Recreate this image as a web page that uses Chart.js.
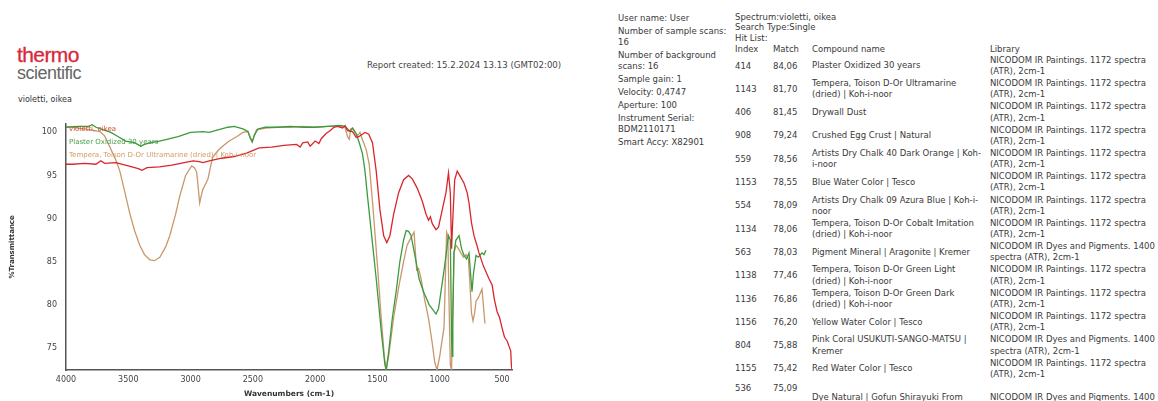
<!DOCTYPE html>
<html>
<head>
<meta charset="utf-8">
<script src="https://cdn.jsdelivr.net/npm/chart.js@4"></script>
<style>
  html, body { margin: 0; padding: 0; background: #fff; }
  body { width: 1158px; height: 401px; position: relative; overflow: hidden;
         font-family: "DejaVu Sans", Verdana, sans-serif; color: #3a3a3a; }
  .abs { position: absolute; white-space: nowrap; }
  .txt { font-size: 8.5px; line-height: 11px; }
  #logo1 { left: 17px; top: 43px; font: 21px "Liberation Sans", Arial, sans-serif; color: #d8283a; letter-spacing: -0.6px; -webkit-text-stroke: 0.3px #d8283a; }
  #logo2 { left: 17px; top: 63px; font: 18px "Liberation Sans", Arial, sans-serif; color: #666; letter-spacing: -0.5px; }
  #sample { left: 18px; top: 95px; font-size: 8px; color: #333; }
  #report { left: 367px; top: 60px; font-size: 8.6px; color: #444; }
  #info { left: 618px; top: 12.5px; }
  #info div { margin-bottom: 2px; }
  #chartBox { position: absolute; left: 0; top: 110px; width: 530px; height: 291px; }
</style>
</head>
<body>
<div id="logo1" class="abs">thermo</div>
<div id="logo2" class="abs">scientific</div>
<div id="sample" class="abs">violetti, oikea</div>
<div id="report" class="abs">Report created: 15.2.2024 13.13 (GMT02:00)</div>

<div id="info" class="abs txt">
  <div>User name: User</div>
  <div>Number of sample scans:<br>16</div>
  <div>Number of background<br>scans: 16</div>
  <div>Sample gain: 1</div>
  <div>Velocity: 0,4747</div>
  <div>Aperture: 100</div>
  <div>Instrument Serial:<br>BDM2110171</div>
  <div>Smart Accy: X82901</div>
</div>

<div class="abs txt" style="left:735px; top:11.5px; line-height:10.5px;">Spectrum:violetti, oikea<br>Search Type:Single<br>Hit List:</div>
<div id="hits"></div>

<div id="chartBox"><canvas id="spectrum"></canvas></div>

<script>
// axis ticks
const wavenumberTicks = [4000, 3500, 3000, 2500, 2000, 1500, 1000, 500];
const transmittanceTicks = [75, 80, 85, 90, 95, 100];

// sample spectrum (red)
const sampleLabel = 'violetti, oikea';
const sampleWn = [4000, 3950, 3850, 3760, 3720, 3690, 3600, 3500, 3420, 3390, 3350, 3250, 3150, 3050, 2980, 2930, 2900, 2850,
  2750, 2650, 2550, 2450, 2350, 2250, 2150, 2120, 2100, 2060, 2040, 2000, 1970, 1950, 1910, 1880, 1850, 1820, 1780, 1760,
  1740, 1700, 1670, 1650, 1600, 1570, 1540, 1510, 1480, 1450, 1425, 1400, 1370, 1330, 1290, 1250, 1220, 1180, 1140, 1110,
  1090, 1075, 1060, 1030, 1010, 980, 950, 930, 915, 905, 895, 880, 860, 840, 805, 780, 765, 745, 725, 700, 685, 650, 605,
  580, 560, 540, 520, 500, 480, 460, 445, 430, 425, 420];
const sampleT = [96.3, 96.3, 96.4, 96.3, 96.7, 96.4, 96.5, 96.1, 95.8, 95.6, 95.9, 96.0, 96.2, 96.5, 96.7, 96.6, 96.5, 96.7,
  97.0, 97.2, 97.6, 98.2, 98.3, 98.5, 98.6, 98.3, 98.8, 98.9, 98.4, 99.0, 98.7, 99.3, 99.9, 100.2, 100.6, 100.7, 100.5, 100.8,
  100.2, 100.1, 99.4, 99.5, 100.0, 99.8, 98.8, 95.5, 91.0, 88.0, 87.2, 88.0, 90.5, 93.0, 94.5, 95.0, 94.6, 93.5, 92.0, 90.5,
  89.8, 90.2, 89.4, 88.7, 89.0, 91.0, 93.0, 95.3, 93.0, 86.5, 90.0, 94.5, 95.5, 95.0, 94.1, 93.0, 91.8, 89.5, 88.0, 86.8, 86.0,
  84.5, 83.0, 82.3, 80.5, 79.2, 78.5, 77.3, 76.2, 75.8, 75.2, 74.6, 73.0, 72.4];

// hit 1 (green)
const plasterLabel = 'Plaster Oxidized 30 years';
const plasterWn = [4000, 3900, 3820, 3790, 3760, 3700, 3640, 3580, 3520, 3450, 3400, 3370, 3320, 3250, 3190, 3100, 3000,
  2900, 2850, 2780, 2700, 2650, 2580, 2540, 2520, 2505, 2490, 2460, 2400, 2300, 2200, 2100, 2000, 1900, 1800, 1760, 1720,
  1700, 1670, 1646, 1620, 1600, 1580, 1550, 1510, 1470, 1440, 1430, 1410, 1380, 1350, 1320, 1290, 1270, 1250, 1230, 1210,
  1190, 1166, 1130, 1100, 1086, 1060, 1030, 1010, 990, 970, 950, 930, 915, 905, 900, 895, 886, 870, 845, 825, 805, 785, 765,
  755, 741, 730, 709, 690, 661, 645, 629];
const plasterT = [100.6, 100.7, 100.7, 100.9, 100.6, 100.3, 100.0, 99.5, 99.0, 98.8, 98.4, 98.6, 98.8, 99.0, 99.2, 99.5, 100.0,
  100.1, 100.0, 100.3, 100.6, 100.7, 100.4, 100.1, 99.3, 98.9, 99.6, 100.4, 100.6, 100.6, 100.7, 100.6, 100.6, 100.7, 100.8,
  100.7, 100.1, 100.5, 99.8, 98.8, 97.5, 95.5, 92.6, 88.5, 83.0, 77.0, 73.0, 72.4, 74.5, 78.5, 81.5, 85.0, 87.5, 88.6, 88.5,
  88.0, 86.5, 85.0, 83.0, 81.5, 80.5, 80.0, 79.5, 78.9, 79.5, 81.5, 83.5, 85.7, 88.0, 87.5, 76.0, 74.0, 78.0, 86.0, 87.5, 88.0,
  86.5, 85.7, 85.3, 86.0, 84.0, 81.5, 83.5, 85.7, 85.5, 86.0, 85.8, 86.3];

// hit 2 (tan)
const temperaLabel = 'Tempera, Toison D-Or Ultramarine (dried) | Koh-i-noor';
const temperaWn = [4000, 3900, 3800, 3728, 3690, 3648, 3600, 3568, 3530, 3488, 3450, 3408, 3370, 3327, 3290, 3247, 3200,
  3167, 3120, 3087, 3040, 2991, 2970, 2951, 2938, 2927, 2915, 2903, 2880, 2860, 2840, 2823, 2780, 2743, 2690, 2631, 2580,
  2540, 2520, 2505, 2490, 2471, 2400, 2300, 2200, 2100, 2000, 1900, 1800, 1760, 1740, 1726, 1715, 1700, 1660, 1640, 1622,
  1590, 1566, 1540, 1502, 1470, 1445, 1430, 1410, 1370, 1326, 1290, 1262, 1230, 1206, 1195, 1185, 1170, 1150, 1120, 1090,
  1060, 1040, 1022, 1000, 985, 966, 955, 945, 935, 925, 915, 905, 895, 885, 870, 850, 830, 810, 790, 770, 760, 745, 733,
  720, 709, 690, 661, 650, 637];
const temperaT = [100.7, 100.5, 100.3, 100.1, 99.6, 98.3, 96.8, 95.5, 93.2, 90.6, 88.6, 86.9, 85.8, 85.2, 85.1, 85.5, 86.7,
  88.0, 90.5, 92.6, 95.0, 96.1, 95.9, 95.4, 93.5, 91.8, 92.6, 93.3, 94.0, 94.6, 96.0, 97.1, 97.9, 98.4, 99.0, 99.5, 100.0,
  100.1, 99.4, 98.9, 99.6, 100.3, 100.5, 100.6, 100.6, 100.7, 100.6, 100.7, 100.7, 100.6, 99.5, 99.2, 100.4, 100.5, 99.6,
  100.0, 99.2, 98.0, 96.3, 92.0, 84.9, 78.5, 74.0, 72.4, 74.0, 78.5, 82.3, 85.0, 86.9, 87.8, 88.4, 86.0, 84.0, 84.2, 83.0,
  80.5, 78.4, 75.5, 73.3, 72.4, 74.0, 75.5, 77.3, 83.0, 88.4, 88.0, 80.0, 73.0, 72.4, 80.0, 86.0, 86.9, 86.5, 86.0, 85.5,
  85.8, 85.3, 83.0, 79.0, 78.1, 79.0, 80.4, 80.8, 81.8, 80.0, 77.8];

// hit list table
const hitIndex = ['414', '1143', '406', '908', '559', '1153', '554', '1134', '563', '1138', '1136', '1156', '804', '1155', '536'];
const hitMatch = ['84,06', '81,70', '81,45', '79,24', '78,56', '78,55', '78,09', '78,06', '78,03', '77,46', '76,86', '76,20', '75,88', '75,42', '75,09'];
const hitName = [
  ['Plaster Oxidized 30 years'],
  ['Tempera, Toison D-Or Ultramarine', '(dried) | Koh-i-noor'],
  ['Drywall Dust'],
  ['Crushed Egg Crust | Natural'],
  ['Artists Dry Chalk 40 Dark Orange | Koh-', 'i-noor'],
  ['Blue Water Color | Tesco'],
  ['Artists Dry Chalk 09 Azura Blue | Koh-i-', 'noor'],
  ['Tempera, Toison D-Or Cobalt Imitation', '(dried) | Koh-i-noor'],
  ['Pigment Mineral | Aragonite | Kremer'],
  ['Tempera, Toison D-Or Green Light', '(dried) | Koh-i-noor'],
  ['Tempera, Toison D-Or Green Dark', '(dried) | Koh-i-noor'],
  ['Yellow Water Color | Tesco'],
  ['Pink Coral USUKUTI-SANGO-MATSU |', 'Kremer'],
  ['Red Water Color | Tesco'],
  ['', 'Dye Natural | Gofun Shirayuki From']
];
const libPaintings = ['NICODOM IR Paintings. 1172 spectra', '(ATR), 2cm-1'];
const libDyes = ['NICODOM IR Dyes and Pigments. 1400', 'spectra (ATR), 2cm-1'];
const hitLibrary = [libPaintings, libPaintings, libPaintings, libPaintings, libPaintings, libPaintings, libPaintings,
  libPaintings, libDyes, libPaintings, libPaintings, libPaintings, libDyes, libPaintings, ['', libDyes[0]]];

// build the hit list
function buildHits() {
  const box = document.getElementById('hits');
  const cols = [735, 773, 812, 990];
  const headers = ['Index', 'Match', 'Compound name', 'Library'];
  const lineH = 11.3;
  let html = '';
  headers.forEach((h, i) => {
    html += `<div class="abs txt" style="left:${cols[i]}px;top:${49 - 5}px">${h}</div>`;
  });
  hitIndex.forEach((idx, r) => {
    const c = 66 + r * 23.3;
    // last row sits a bit higher than its (cut off) name
    const oneLine = c - 5.5 - (r === hitIndex.length - 1 ? 4 : 0);
    html += `<div class="abs txt" style="left:${cols[0]}px;top:${oneLine}px">${idx}</div>`;
    html += `<div class="abs txt" style="left:${cols[1]}px;top:${oneLine}px">${hitMatch[r]}</div>`;
    const name = hitName[r];
    const nTop = c - name.length * lineH / 2;
    html += `<div class="abs txt" style="left:${cols[2]}px;top:${nTop}px;line-height:${lineH}px">${name.join('<br>')}</div>`;
    const lib = hitLibrary[r];
    html += `<div class="abs txt" style="left:${cols[3]}px;top:${c - lineH}px;line-height:${lineH}px">${lib.join('<br>')}</div>`;
  });
  box.innerHTML = html;
}

function toPoints(wn, t) {
  return wn.map((w, i) => ({ x: w, y: t[i] }));
}

// labels written inside the plot, top left
const inlineLegend = {
  id: 'inlineLegend',
  afterDatasetsDraw(chart) {
    const { ctx, chartArea: { left, top } } = chart;
    ctx.save();
    ctx.font = '7px "DejaVu Sans"';
    ctx.textBaseline = 'middle';
    chart.data.datasets.forEach((ds, i) => {
      ctx.fillStyle = ds.legendColor;
      ctx.fillText(ds.label, left + 3, top + 5 + i * 13);
    });
    ctx.restore();
  }
};

function initChart() {
  const ctx = document.getElementById('spectrum').getContext('2d');
  new Chart(ctx, {
    type: 'line',
    data: {
      datasets: [
        { label: sampleLabel, data: toPoints(sampleWn, sampleT), borderColor: '#d9262c', legendColor: '#cf4a2c' },
        { label: plasterLabel, data: toPoints(plasterWn, plasterT), borderColor: '#3c9a3e', legendColor: '#46a04c' },
        { label: temperaLabel, data: toPoints(temperaWn, temperaT), borderColor: '#c9976b', legendColor: '#d39a62' }
      ]
    },
    options: {
      responsive: true,
      maintainAspectRatio: false,
      animation: false,
      parsing: false,
      elements: {
        point: { radius: 0 },
        line: { borderWidth: 1.3, tension: 0 }
      },
      layout: { padding: { top: 7, right: 18, left: 0, bottom: 0 } },
      plugins: {
        legend: { display: false },
        tooltip: { enabled: false }
      },
      scales: {
        x: {
          type: 'linear',
          reverse: true,
          min: 420,
          max: 4000,
          grid: { display: false, drawTicks: false },
          border: { display: true, color: '#555', width: 1.5 },
          afterBuildTicks: (scale) => { scale.ticks = wavenumberTicks.map(v => ({ value: v })); },
          afterFit: (scale) => { scale.height = 31; },
          ticks: {
            color: '#444', font: { family: 'DejaVu Sans', size: 8 }, padding: 5, maxRotation: 0, autoSkip: false,
            callback: (v) => String(v)
          },
          title: {
            display: true, text: 'Wavenumbers (cm-1)', color: '#333',
            font: { family: 'DejaVu Sans', size: 7.5, weight: 'bold' }, padding: { top: 0, bottom: 2 }
          }
        },
        y: {
          min: 72.4,
          max: 101,
          grid: { display: false, drawTicks: false },
          border: { display: true, color: '#555', width: 1.5 },
          afterBuildTicks: (scale) => { scale.ticks = transmittanceTicks.map(v => ({ value: v })); },
          afterFit: (scale) => { scale.width = 66; },
          ticks: { color: '#444', font: { family: 'DejaVu Sans', size: 8 }, padding: 9, callback: (v) => String(v) },
          title: {
            display: true, text: '%Transmittance', color: '#333',
            font: { family: 'DejaVu Sans', size: 7, weight: 'bold' }, padding: { top: 8, bottom: 0 }
          }
        }
      }
    },
    plugins: [inlineLegend]
  });
}

document.addEventListener('DOMContentLoaded', function() {
  buildHits();
  initChart();
});
</script>
</body>
</html>
